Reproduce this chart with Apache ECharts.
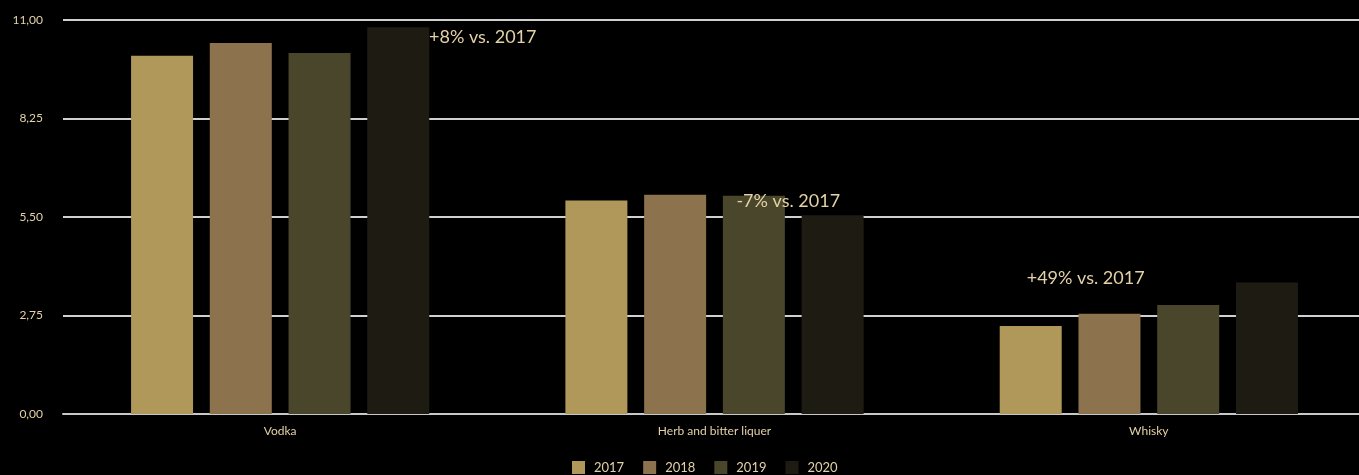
<!DOCTYPE html>
<html>
<head>
<meta charset="utf-8">
<script src="https://cdn.jsdelivr.net/npm/echarts@6/dist/echarts.min.js"></script>
<style>
html,body{margin:0;padding:0;background:#000;overflow:hidden;}
#c{width:1366px;height:475px;}
</style>
</head>
<body>
<div id="c"></div>
<script>
const categories = ['Vodka', 'Herb and bitter liquer', 'Whisky'];
const years = ['2017', '2018', '2019', '2020'];
const values2017 = [10.0, 5.96, 2.46];
const values2018 = [10.36, 6.12, 2.80];
const values2019 = [10.08, 6.09, 3.04];
const values2020 = [10.80, 5.55, 3.67];
const yTicks = { min: 0, max: 11, interval: 2.75 };
const annotationTexts = ['+8% vs. 2017', '-7% vs. 2017', '+49% vs. 2017'];
const annotationValues = [10.51, 5.93, 3.80];

const colors = ['#B0985A', '#8C724D', '#4A462B', '#1E1C12'];
const seriesValues = [values2017, values2018, values2019, values2020];
const textColor = '#E3D2A6';
const annOffsets = [[267, 0], [140, 0], [-4, 0]];

const chart = echarts.init(document.getElementById('c'), null, { renderer: 'canvas' });

const series = years.map((y, i) => ({
  name: y,
  type: 'bar',
  data: seriesValues[i],
  barWidth: 62,
  barGap: '27%',
  itemStyle: { color: colors[i] },
  z: 3
}));

series[0].markPoint = {
  symbol: 'rect',
  symbolSize: 0,
  silent: true,
  animation: false,
  data: annotationTexts.map((t, i) => ({
    coord: [i, annotationValues[i]],
    value: t,
    label: {
      show: true,
      formatter: t,
      position: 'inside',
      align: 'left',
      verticalAlign: 'middle',
      offset: annOffsets[i],
      color: textColor,
      fontFamily: 'Lato',
      fontSize: 18
    }
  }))
};

chart.setOption({
  backgroundColor: '#000000',
  animation: false,
  textStyle: { fontFamily: 'Lato' },
  grid: { left: 63, top: 20, right: 0, height: 394 },
  legend: {
    data: years,
    top: 461,
    left: 572,
    padding: 0,
    itemWidth: 13,
    itemHeight: 13,
    itemGap: 19,
    icon: 'rect',
    textStyle: { color: textColor, fontSize: 13, fontFamily: 'Lato', padding: [0, 0, 0, 4] }
  },
  xAxis: {
    type: 'category',
    data: categories,
    axisTick: { show: false },
    axisLine: { lineStyle: { color: '#C8C8C8', width: 2 } },
    axisLabel: { color: textColor, fontSize: 12, margin: 11, fontFamily: 'Lato' }
  },
  yAxis: {
    type: 'value',
    min: yTicks.min,
    max: yTicks.max,
    interval: yTicks.interval,
    axisLine: { show: false },
    axisTick: { show: false },
    splitLine: { lineStyle: { color: '#D0D0D0', width: 2 } },
    axisLabel: {
      color: textColor,
      fontSize: 12,
      margin: 20,
      fontFamily: 'Lato',
      formatter: v => v.toFixed(2).replace('.', ',')
    }
  },
  series: series
});
</script>
</body>
</html>
